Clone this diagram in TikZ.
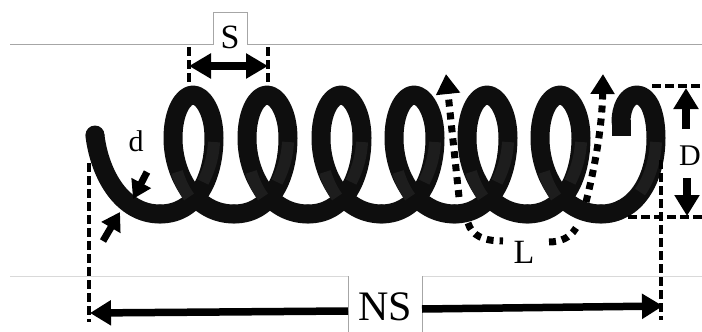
\documentclass[tikz,border=0pt]{standalone}
\usepackage{fontspec}
\setmainfont{Liberation Serif}
\usetikzlibrary{arrows.meta}
\definecolor{wirecol}{HTML}{0E0E0E}
\definecolor{wirelight}{HTML}{1D1D1D}
\tikzset{
	coilwire/.style={draw=wirecol, line width=19pt, line cap=round, line join=round},
	coilshade/.style={draw=wirelight, line width=12pt},
	frameline/.style={draw=gray!70, line width=0.7pt},
	baseline/.style={draw=gray!30, line width=0.7pt},
	guide/.style={draw=black, line width=3.2pt, dash pattern=on 9pt off 4pt},
	dim/.style={draw=black, line width=7.5pt, {Triangle[length=22pt,width=24pt]}-{Triangle[length=22pt,width=24pt]}},
	onedim/.style={draw=black, line width=7.5pt, -{Triangle[length=21pt,width=24pt]}},
	smalldim/.style={draw=black, line width=7pt, -{Triangle[length=18pt,width=21pt]}},
	dots/.style={draw=black, line width=7pt, dash pattern=on 7pt off 6pt},
	dotsarrow/.style={dots, -{Triangle[length=20pt,width=23pt]}},
	lbl/.style={inner sep=0pt, font=\fontsize{#1}{#1}\selectfont}
}
\begin{document}
\begin{tikzpicture}[x=1pt, y=-1pt]
	\useasboundingbox (0,0) rectangle (702,332);
	\clip (0,0) rectangle (702,332);
	% frame lines
	\draw[frameline] (10,44) -- (213,44) -- (213,12) -- (247,12) -- (247,44) -- (702,44);
	\draw[baseline] (10,276) -- (348,276);
	\draw[baseline] (422,276) -- (702,276);
	\draw[frameline] (348,276) -- (348,332);
	\draw[frameline] (422,276) -- (422,332);
	% first part of the wire
	\draw[coilwire] (95,136) .. controls (100,175) and (122,214) .. (160,214);
	% loops
	\foreach \shift in {0,74,148,221,294,367} {
		\begin{scope}[xshift=\shift pt]
			\draw[coilwire] (160,214) .. controls (198,214) and (214,175) .. (214,138)
				.. controls (214,112) and (203,95) .. (193,95)
				.. controls (183,95) and (173,112) .. (173,138)
				.. controls (173,175) and (195,214) .. (234,214);
			\draw[coilshade] (214,142) .. controls (213,160) and (208,172) .. (203,182);
			\draw[coilshade] (177,172) .. controls (180,182) and (184,190) .. (189,197);
		\end{scope}
	}
	% last part of the wire
	\draw[coilwire] (601,214) .. controls (635,214) and (656,180) .. (656,138)
		.. controls (656,112) and (648,95) .. (637,95)
		.. controls (627,95) and (621,108) .. (621,122);
	\fill[wirecol] (612,120) rectangle (631,136);
	\draw[coilshade] (656,142) .. controls (655,160) and (650,178) .. (640,192);
	\fill[wirecol] (95,135) circle (9.5pt);
	% dimension coordinates
	\coordinate (sleft) at (189,66);
	\coordinate (sright) at (268,66);
	\coordinate (sleftup) at (189,47);
	\coordinate (sleftdown) at (189,86);
	\coordinate (srightup) at (268,47);
	\coordinate (srightdown) at (268,86);
	\coordinate (nsleft) at (90,313);
	\coordinate (nsmidl) at (348,311);
	\coordinate (nsmidr) at (422,309);
	\coordinate (nsright) at (663,306);
	\coordinate (guidela) at (89,163);
	\coordinate (guidelb) at (89,322);
	\coordinate (guidera) at (661,160);
	\coordinate (guiderb) at (661,320);
	\coordinate (dtop) at (652,86);
	\coordinate (dtopr) at (702,86);
	\coordinate (dbot) at (628,217);
	\coordinate (dbotr) at (702,217);
	\draw[guide] (sleftup) -- (sleftdown);
	\draw[guide] (srightup) -- (srightdown);
	\draw[dim] (sleft) -- (sright);
	\draw[guide] (guidela) -- (guidelb);
	\draw[guide] (guidera) -- (guiderb);
	\draw[onedim] (nsmidl) -- (nsleft);
	\draw[onedim] (nsmidr) -- (nsright);
	\draw[guide] (dtop) -- (dtopr);
	\draw[guide] (dbot) -- (dbotr);
	% D arrows
	\coordinate (dupa) at (686,129);
	\coordinate (dupb) at (686,88);
	\coordinate (ddowna) at (687,178);
	\coordinate (ddownb) at (687,216);
	\draw[onedim] (dupa) -- (dupb);
	\draw[onedim] (ddowna) -- (ddownb);
	% d arrows
	\coordinate (wirea) at (147,172);
	\coordinate (wireb) at (133,199);
	\coordinate (wirec) at (103,241);
	\coordinate (wired) at (120,212);
	\draw[smalldim] (wirea) -- (wireb);
	\draw[smalldim] (wirec) -- (wired);
	% L dots
	\coordinate (la) at (459,197);
	\coordinate (lb) at (446,74);
	\coordinate (lc) at (468,223);
	\coordinate (ld) at (503,241);
	\coordinate (le) at (549,242);
	\coordinate (lf) at (576,228);
	\coordinate (lg) at (586,202);
	\coordinate (lh) at (603,74);
	\draw[dotsarrow] (la) -- (lb);
	\draw[dots] (lc) .. controls (472,236) and (484,241) .. (ld);
	\draw[dots] (le) .. controls (560,242) and (570,238) .. (lf);
	\draw[dotsarrow] (lg) .. controls (594,170) and (602,130) .. (lh);
	% labels
	\node[lbl=34] (labS) at (230,37) {S};
	\node[lbl=30] (labd) at (136,141) {d};
	\node[lbl=30] (labD) at (690,156) {D};
	\node[lbl=34] (labL) at (524,252) {L};
	\node[lbl=42] (labNS) at (385,307) {NS};
\end{tikzpicture}
\end{document}
